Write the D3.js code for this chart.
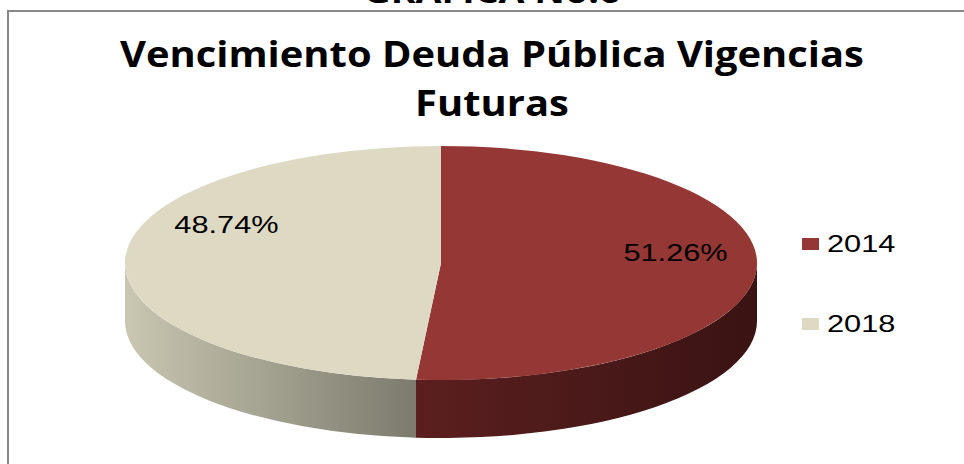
<!DOCTYPE html>
<meta charset="UTF-8">
<style>
    body { margin: 0; background: #fff; }
    svg { display: block; }
    .title { font-family: "Open Sans", sans-serif; font-weight: bold; fill: #000; }
    .lbl { font-family: "Liberation Sans", Arial, sans-serif; font-size: 24px; fill: #000; }
</style>
<body>
<div id="chart"></div>
<script src="https://d3js.org/d3.v7.min.js"></script>
<script>

// data
var categories = ["2014", "2018"];
var values = [51.26, 48.74];
var labels = ["51.26%", "48.74%"];
var topColors = ["#953735", "#DDD9C3"];

var width = 964, height = 464;

// pie geometry (ellipse of the top face, thickness of the side)
var cx = 441, cy = 263, rx = 316, ry = 117, depth = 58;

var svg = d3.select("#chart").append("svg")
    .attr("width", width)
    .attr("height", height);

// the original is stretched sideways a little; widen the text the same way
function stretch(sel, k) {
    sel.each(function() {
        var w = this.getComputedTextLength();
        d3.select(this)
            .attr("textLength", w * k)
            .attr("lengthAdjust", "spacingAndGlyphs");
    });
}

// frame
svg.append("rect")
    .attr("x", 8).attr("y", 11)
    .attr("width", 1000).attr("height", 1000)
    .attr("fill", "#fff")
    .attr("stroke", "#898989")
    .attr("stroke-width", 2);

// heading above the frame, cut off by the top edge as in the original
svg.append("text")
    .attr("class", "title")
    .attr("x", 492).attr("y", 3)
    .attr("text-anchor", "middle")
    .style("font-size", "33px")
    .text("GRAFICA No.6")
    .call(stretch, 1.14);

// chart title
var titleLines = ["Vencimiento Deuda Pública Vigencias", "Futuras"];
svg.selectAll(".ttl")
    .data(titleLines)
  .enter().append("text")
    .attr("class", "title ttl")
    .attr("text-anchor", "middle")
    .style("font-size", "35px")
    .attr("x", 492)
    .attr("y", function(d, i) { return 67 + i * 49; })
    .text(function(d) { return d; })
    .call(stretch, 1.14);

// gradients for the side walls
var defs = svg.append("defs");
var wallGrad = [
    {id: "g2014", x1: cx - 30, x2: cx + rx, stops: ["#5c1f1f", "#3a1313"]},
    {id: "g2018", x1: cx - rx, x2: cx - 30, stops: ["#c9c6b1", "#7d7c6e"]}
];
wallGrad.forEach(function(g) {
    var lg = defs.append("linearGradient")
        .attr("id", g.id)
        .attr("gradientUnits", "userSpaceOnUse")
        .attr("x1", g.x1).attr("x2", g.x2)
        .attr("y1", 0).attr("y2", 0);
    lg.append("stop").attr("offset", "0%").attr("stop-color", g.stops[0]);
    lg.append("stop").attr("offset", "100%").attr("stop-color", g.stops[1]);
});

var pie = d3.pie().sort(null).value(function(d) { return d; });
var slices = pie(values);

function pt(a, dy) {
    return [cx + rx * Math.sin(a), cy - ry * Math.cos(a) + (dy || 0)];
}

// side walls: only the front half (angles between pi/2 and 3pi/2) is visible
slices.forEach(function(s, i) {
    var a0 = Math.max(s.startAngle, Math.PI / 2);
    var a1 = Math.min(s.endAngle, 3 * Math.PI / 2);
    if (a1 <= a0) return;
    var p0 = pt(a0), p1 = pt(a1), q1 = pt(a1, depth), q0 = pt(a0, depth);
    var path = "M" + p0 +
        "A" + rx + "," + ry + " 0 0 1 " + p1 +
        "L" + q1 +
        "A" + rx + "," + ry + " 0 0 0 " + q0 + "Z";
    svg.append("path")
        .attr("d", path)
        .attr("fill", "url(#g" + categories[i] + ")");
});

// top face
var arc = d3.arc().innerRadius(0).outerRadius(rx);
svg.append("g")
    .attr("transform", "translate(" + cx + "," + cy + ") scale(1," + (ry / rx) + ")")
  .selectAll("path")
    .data(slices)
  .enter().append("path")
    .attr("d", arc)
    .attr("fill", function(d, i) { return topColors[i]; });

// data labels, placed a little clockwise of the slice middle as in the original
var labelR = 0.72, labelTurn = 7 * Math.PI / 180;
function labelAngle(d) { return (d.startAngle + d.endAngle) / 2 + labelTurn; }
svg.selectAll(".val")
    .data(slices)
  .enter().append("text")
    .attr("class", "lbl val")
    .attr("text-anchor", "middle")
    .attr("x", function(d) { return cx + 10 + rx * labelR * Math.sin(labelAngle(d)); })
    .attr("y", function(d) { return cy - 16 - ry * labelR * Math.cos(labelAngle(d)); })
    .text(function(d, i) { return labels[i]; })
    .call(stretch, 1.28);

// legend
var legend = svg.selectAll(".leg")
    .data(categories)
  .enter().append("g")
    .attr("transform", function(d, i) { return "translate(802," + (238 + i * 80) + ")"; });
legend.append("rect")
    .attr("width", 17).attr("height", 12)
    .attr("fill", function(d, i) { return topColors[i]; });
legend.append("text")
    .attr("class", "lbl")
    .attr("x", 25).attr("y", 14)
    .text(function(d) { return d; })
    .call(stretch, 1.28);

</script>
</body>
